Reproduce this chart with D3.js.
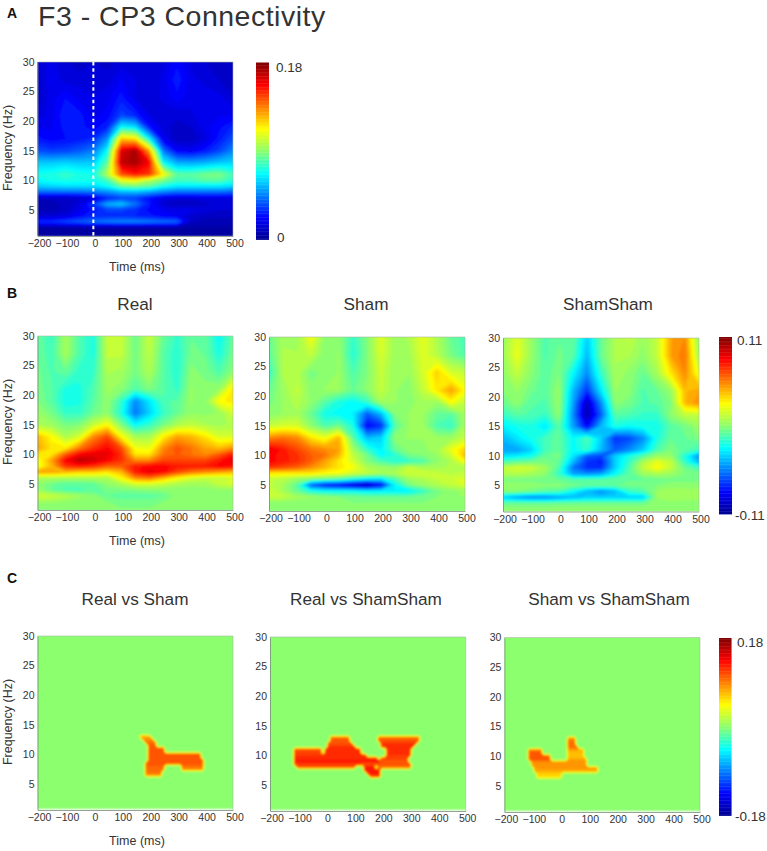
<!DOCTYPE html>
<html>
<head>
<meta charset="utf-8">
<script src="https://cdn.jsdelivr.net/npm/d3@7"></script>
<style>
  body { margin: 0; background: #fff; }
  text { font-family: "Liberation Sans", Arial, sans-serif; fill: #333; }
</style>
</head>
<body>
<div id="chart"></div>
<script>
// Heatmap axes, sampled unevenly in frequency because the low band has more detail
const times = [-200, -150, -100, -50, 0, 50, 100, 150, 200, 250, 300, 350, 400, 450, 500];
const freqs = [30, 27, 24, 21, 19, 17, 15, 13, 11, 10, 9, 8, 7, 6, 5, 4, 3, 2, 1];
const timeTicks = [-200, -100, 0, 100, 200, 300, 400, 500];
const freqTicks = [5, 10, 15, 20, 25, 30];

// Values below are in units of 0.01, one row per entry of freqs
const connectivity = [
    [1.6, 2.0, 1.5, 1.3, 1.5, 1.3, 1.7, 1.5, 1.5, 1.8, 2.5, 1.8, 1.5, 1.3, 1.1],
    [1.3, 2.3, 1.7, 1.7, 1.7, 1.7, 2.3, 1.9, 1.5, 2.0, 2.9, 2.0, 1.7, 1.5, 1.3],
    [1.3, 2.1, 2.6, 2.1, 1.9, 2.1, 2.8, 1.9, 1.5, 2.0, 2.5, 2.0, 2.2, 2.0, 1.5],
    [1.7, 2.1, 3.0, 2.8, 2.1, 2.4, 3.6, 3.0, 1.9, 1.6, 1.6, 1.8, 2.2, 2.2, 2.2],
    [2.2, 2.2, 2.8, 2.8, 2.4, 3.0, 7.0, 6.5, 2.8, 1.7, 1.3, 1.5, 2.1, 2.5, 3.1],
    [2.8, 2.4, 2.6, 2.8, 3.2, 5.0, 12.5, 12, 7.0, 2.2, 1.2, 1.2, 1.8, 2.8, 3.8],
    [3.8, 3.5, 3.6, 4.0, 4.6, 7.0, 16.5, 17.5, 13, 4.5, 2.4, 2.2, 2.8, 3.6, 4.8],
    [6.0, 6.0, 6.2, 6.0, 6.0, 8.5, 17, 17.5, 16, 7.0, 5.5, 5.4, 5.6, 6.0, 6.2],
    [7.2, 7.4, 7.8, 7.4, 7.2, 10, 14.5, 15.5, 15, 11.5, 8.4, 8.4, 8.8, 9.0, 8.0],
    [7.0, 7.2, 7.4, 7.2, 7.2, 8.0, 11, 11.5, 10, 9.0, 8.0, 8.0, 8.4, 8.4, 7.6],
    [6.0, 6.2, 6.4, 6.4, 6.4, 7.0, 8.5, 8.8, 8.4, 7.2, 6.6, 6.6, 6.6, 6.6, 6.2],
    [4.2, 4.2, 4.2, 4.2, 4.4, 4.8, 5.5, 5.6, 5.2, 4.6, 4.2, 4.2, 4.2, 4.2, 4.0],
    [1.2, 1.2, 1.2, 1.4, 1.8, 3.0, 3.6, 3.5, 2.6, 1.8, 1.6, 1.6, 1.8, 1.8, 1.8],
    [1.0, 1.0, 1.2, 1.8, 3.5, 5.5, 6.0, 4.5, 2.8, 1.5, 1.2, 1.2, 1.4, 1.6, 1.6],
    [1.0, 1.0, 1.2, 2.0, 2.8, 3.5, 3.5, 3.2, 2.5, 2.2, 2.0, 2.0, 1.8, 1.5, 1.5],
    [1.5, 1.6, 1.8, 2.5, 3.0, 3.2, 3.2, 3.0, 2.8, 2.4, 2.2, 1.5, 1.2, 1.2, 1.2],
    [3.0, 3.2, 3.6, 4.0, 4.4, 4.6, 4.8, 4.8, 4.6, 4.4, 4.2, 1.2, 1.0, 1.0, 1.0],
    [0.7, 0.7, 0.7, 0.7, 0.7, 0.7, 0.7, 0.7, 0.7, 0.7, 0.7, 0.7, 0.7, 0.7, 0.7],
    [0.6, 0.6, 0.6, 0.6, 0.6, 0.6, 0.6, 0.6, 0.6, 0.6, 0.6, 0.6, 0.6, 0.6, 0.6]
];

const real = [
    [-.5, -1.5, .8, -1, -2, 1.5, 1.6, -.5, 1.6, -.5, -1.5, -.5, -.5, -2.5, -.5],
    [-.5, -1.2, .8, -1, -2, 1.5, 1.5, -.3, 1.4, -.8, -1.8, -.3, -.5, -2, -.3],
    [-.3, -1, -.5, -1.6, -1.5, 1, .8, -.2, 1, -.8, -1.8, .2, -.2, -1, .2],
    [-.2, -.8, -2, -2, -1, .6, .2, -1, 0, -.8, -1.5, .5, .2, .5, 3.5],
    [0, -.8, -2.2, -2, -.8, .4, -1.5, -5, -3, -1, -.8, .5, .2, 3, 3.5],
    [.5, -.2, -1.5, -1.5, -.4, .3, -2, -5.5, -3.5, -1.5, -.5, .4, .3, .5, 2],
    [1, .6, -.2, 0, 1.6, 3, 0, -2.5, -1.5, -.2, 1, 1.5, 1, .8, 1],
    [4.5, 3, 1, 2, 5.5, 7, 3, .8, .8, 3.2, 5, 4.5, 3.5, 2, 2],
    [5, 3.5, 3.5, 6, 7.5, 8.5, 7, 2.8, 2.5, 5.5, 6.8, 6, 5, 4.5, 5.5],
    [3.5, 3.5, 6.5, 8.5, 9, 9, 7.5, 3.5, 3.5, 6, 6.5, 6, 5.5, 6.5, 8],
    [2.5, 5, 8.5, 10, 9.5, 8.5, 7.5, 5.5, 5.5, 7, 7, 7, 7, 8, 9],
    [2.5, 4.5, 7.5, 8, 7.5, 6.5, 6.5, 8, 8.5, 8.5, 8, 8, 8, 8.5, 8.5],
    [5, 5, 4.5, 4, 4, 3.5, 4.5, 8, 9, 8.5, 7, 6, 5.5, 5, 4.5],
    [1, 1, 1, 1, 1, 1, 3, 5.5, 6, 4.5, 3, 2, 1.5, 1.5, 2],
    [.3, -.3, -.8, -.8, -.6, .3, 1, 2, 2, 1.6, 1, .7, .7, 1.5, 2],
    [.5, -.5, -1, -1, -.8, -.2, -.2, 0, .2, .2, .2, .2, .3, .4, .4],
    [2, 1.6, 1.2, .6, .2, -.5, -.8, -.8, -.8, -.5, .2, .2, .2, .2, .2],
    [.6, .6, .4, .2, .1, 0, -.2, -.2, -.2, 0, 0, 0, 0, 0, 0],
    [0, 0, 0, 0, 0, 0, 0, 0, 0, 0, 0, 0, 0, 0, 0]
];

const sham = [
    [-.5, .8, .5, 2.8, .2, .3, -1.5, 0, 2.2, .6, 1, 2.4, 1, -.5, -1.2],
    [-.8, 1, 1, 1.5, 0, .5, -1.8, 0, 2, .6, .8, 2.2, 1.2, -.2, -1],
    [-1.5, 1, 1.2, -.2, .2, .5, -1, 0, 1.6, .5, .5, 2, 4, 2, 1.5],
    [-.5, .6, 1.5, .2, .5, .5, -.5, .2, 1.5, .5, .2, 1.5, 3.5, 5, 3],
    [-.2, .5, 1.2, .3, -.8, -2, -2.5, -1.5, .8, .5, .2, .8, .5, 3, 1.5],
    [.2, .5, .8, -.5, -2.2, -2.5, -2.8, -6, -4, 0, .5, .5, -.5, -.8, .8],
    [1.5, 2, 2, .3, -1, -.3, -2, -8, -7, -.8, .5, .5, -1, -1.5, .8],
    [5.5, 6, 5.5, 3.5, 2.5, 4.5, -.8, -4, -3.5, .3, .5, .5, .5, .5, 1.5],
    [9, 8, 7, 6, 5.5, 5, .8, -1.5, -2.8, -.5, .2, .3, .8, 2.5, 4],
    [8.5, 8, 7.5, 6.5, 6, 4.5, 1.5, -.2, -2.5, -1.8, -.2, 0, .5, 1.8, 4.5],
    [8.5, 8, 7.5, 6.5, 5, 3.5, 2, 0, -1, -1.8, -1.5, -1, .3, 1, 3],
    [7.5, 7, 6.5, 5.5, 4.5, 3.5, 2.8, 1, .5, .3, 1.5, .8, .8, 1, 1.2],
    [3.5, 3.5, 3.5, 3.5, 3, 2.8, 2, 1.5, 1, 1, 1.8, 1.8, 1.5, 1.2, 1.5],
    [1.5, 1.2, .5, 0, -.5, -1, -2, -2.8, -3, -1, .6, 1, 1.5, 1.8, 2],
    [1.5, .8, -.8, -6, -7.5, -8, -9, -10, -8, -2.5, -.2, .5, 1, 1.5, 2],
    [1.8, .8, -.5, -2, -2.5, -2.5, -2.5, -2.8, -2.8, -2.8, -2.8, -1.5, -.2, .3, .6],
    [1.8, 1.5, .8, .5, .2, 0, -.2, -.5, -.5, -.5, -.5, -.2, 0, .3, .5],
    [.2, .2, .2, .2, .1, .1, 0, 0, 0, 0, 0, 0, 0, .1, .1],
    [0, 0, 0, 0, 0, 0, 0, 0, 0, 0, 0, 0, 0, 0, 0]
];

const shamSham = [
    [.5, 2.2, .5, -1, -.5, -.5, -3.5, -.5, 1, 1.5, .5, 1.5, 5, 5.5, .2],
    [.5, 2.5, .5, -1, -.3, -.8, -4, -.5, 1, 1, .3, 1.5, 5, 6, .8],
    [.3, 1.5, .2, -.8, 0, -2.5, -5, -1.5, .8, .3, -.5, .8, 3.5, 5.5, 2.5],
    [0, .5, -.3, -.8, .5, -4, -7, -3, .5, .2, -1, -.5, .5, 4.5, 5],
    [-.5, .3, -.8, -1, .5, -4.5, -9.5, -5, .2, -.2, -1, -.8, 0, 4.5, 5.5],
    [-1.5, -.8, -1, -1.5, .3, -5, -10, -6, -.8, -1, -1.5, -1.5, .3, 1.5, 1.5],
    [-2.8, -2.2, -2, -3, -.8, -4.5, -8, -4, -2, -2.5, -2.2, -2.2, -.8, -.3, .6],
    [-4, -3, -2.2, -1.2, -.6, -2.5, -1, -3.5, -7, -6.5, -5, -2, -.5, -.5, 0],
    [-4.5, -4.5, -3.5, -1.2, -.5, -2.5, -1.5, -4, -6, -5, -3.5, -1, 0, -.8, -1.5],
    [-3, -2.8, -2.2, -.5, -.3, -3, -6, -6.5, -3.5, -2, -.8, .5, .5, -2, -5],
    [-1, -.5, -.3, -.2, -.5, -4, -7, -7.5, -3.5, -1.5, 1, 2.5, 1.5, -1.5, -4],
    [1.5, 2, 1.8, .8, -1, -5.5, -7, -7, -3.5, -1, 1.5, 3, 1.5, -.5, -1.2],
    [1, 1.2, .8, .3, -1.5, -4.5, -5, -4.5, -2.5, -.8, .6, 1, .6, 0, -.2],
    [-.2, -.2, -.2, -.3, -.5, -.8, -.8, -.8, -.5, -.5, -.5, -.5, -.2, -.2, -.2],
    [.5, .5, .3, .1, .2, -.3, -.5, -.5, -.5, -.3, -.3, 0, .3, .3, .3],
    [.2, 0, -.3, -.8, -1, -2.5, -4, -5, -4, -1.5, -1, .5, .8, .6, .6],
    [-3.5, -4.5, -5, -5, -4.5, -4, -3.5, -3.5, -3.5, -3.5, -3.5, .5, .8, .6, .6],
    [-.5, -.5, -.5, -.5, -.4, -.3, -.3, -.3, -.3, -.3, -.3, .3, .3, .3, .3],
    [.3, .3, .3, .3, .3, .3, .3, .3, .3, .3, .3, .3, .3, .3, .3]
];

// Significant clusters: [frequency, from ms, to ms, value], zero everywhere else
const realVsSham = [
    [13, 170, 205, 8], [12.5, 175, 210, 9], [12, 190, 220, 10], [11.5, 195, 225, 11],
    [11, 200, 255, 11], [10.5, 200, 255, 11], [10, 195, 380, 11], [9.5, 195, 380, 11],
    [9, 195, 395, 11], [8.5, 190, 395, 11], [8, 190, 250, 10.5], [8, 320, 395, 10],
    [7.5, 190, 250, 10], [7.5, 320, 395, 9], [7, 185, 245, 10], [6.5, 185, 245, 9]
];

const realVsShamSham = [
    [13, 15, 80, 10], [13, 185, 330, 10], [12.5, 15, 80, 11], [12.5, 185, 330, 11],
    [12, 10, 90, 11], [12, 195, 320, 12], [11.5, 8, 100, 12], [11.5, 200, 312, 12],
    [11, -110, -15, 11], [11, 0, 125, 12], [11, 215, 300, 12],
    [10.5, -110, -15, 11.5], [10.5, 0, 125, 12.5], [10.5, 220, 300, 12],
    [10, -110, -10, 12], [10, -5, 140, 12.5], [10, 215, 300, 12],
    [9.5, -110, 185, 12.5], [9.5, 195, 295, 11.5], [9, -110, 190, 13], [9, 195, 295, 11],
    [8.5, -110, 120, 12], [8.5, 130, 300, 11], [8, -105, 105, 10.5], [8, 135, 175, 13], [8, 190, 300, 10],
    [7.5, 140, 190, 13], [7, 150, 190, 13], [6.5, 155, 190, 12]
];

const shamVsShamSham = [
    [13, 28, 52, 9], [12.5, 28, 54, 10], [12, 28, 56, 10], [11.5, 28, 62, 10],
    [11, -115, -67, 10], [11, 28, 88, 8], [10.5, -115, -67, 11], [10.5, 28, 88, 7],
    [10, -115, -40, 11], [10, 28, 88, 7], [9.5, -115, -40, 11], [9.5, 28, 90, 8],
    [9, -108, 94, 9], [8.5, -105, 94, 8.5], [8, -90, 135, 8.5], [7.5, -90, 135, 8],
    [7, -85, 5, 6.5], [6.5, -85, 5, 6]
];

const clusterTimes = d3.range(-200, 501, 10);
const clusterFreqs = d3.range(30, 0.5, -0.5);

const jetStops = [0, 0.125, 0.375, 0.5, 0.625, 0.875, 1];
const jetColors = ["#00008f", "#0000ff", "#00ffff", "#8cff6e", "#ffff00", "#ff0000", "#7f0000"];

const width = 767;
const height = 851;

const svg = d3.select("#chart").append("svg")
    .attr("width", width)
    .attr("height", height);

const defs = svg.append("defs");
defs.append("filter").attr("id", "soft")
    .append("feGaussianBlur").attr("stdDeviation", 1.1);

const jet = d3.scaleLinear().domain(jetStops).range(jetColors).clamp(true);

// Turn cluster spans into a full grid so they go through the same drawing path
function clusterGrid(spans) {
    return clusterFreqs.map(f => clusterTimes.map(t => {
        const hit = spans.find(s => s[0] === f && t >= s[1] && t <= s[2]);
        return hit ? hit[3] : 0;
    }));
}

let panelCount = 0;

function drawHeatmap(p) {
    const x = d3.scaleLinear().domain([-200, 500]).range([p.x0, p.x1]);
    const y = d3.scaleLinear().domain([0.6, 30]).range([p.y1, p.y0]);
    const color = v => jet((v - p.min) / (p.max - p.min));

    const id = "clip" + (panelCount++);
    defs.append("clipPath").attr("id", id)
        .append("rect")
        .attr("x", p.x0).attr("y", p.y0)
        .attr("width", p.x1 - p.x0).attr("height", p.y1 - p.y0);

    const g = svg.append("g");
    const plot = g.append("g").attr("clip-path", `url(#${id})`)
        .append("g").attr("filter", "url(#soft)");

    // d3.contours puts grid point i at i + 0.5, map that back to time and frequency
    const colT = d3.scaleLinear().domain(p.times.map((t, i) => i + 0.5)).range(p.times);
    const rowF = d3.scaleLinear().domain(p.freqs.map((f, i) => i + 0.5)).range(p.freqs);
    const path = d3.geoPath(d3.geoTransform({
        point: function (a, b) { this.stream.point(x(colT(a)), y(rowF(b))); }
    }));

    const levels = d3.range(48).map(i => p.min + (p.max - p.min) * i / 48);
    const contours = d3.contours()
        .size([p.times.length, p.freqs.length])
        .thresholds(levels)(p.grid.flat());

    plot.selectAll("path")
        .data(contours)
        .enter()
        .append("path")
        .attr("d", path)
        .attr("fill", d => color(d.value));

    const xAxis = d3.axisBottom(x).tickValues(timeTicks).tickSize(0).tickPadding(4).tickFormat(d3.format("d"));
    const yAxis = d3.axisLeft(y).tickValues(freqTicks).tickSize(0).tickPadding(3);

    const gx = g.append("g").attr("transform", `translate(0,${p.y1})`).call(xAxis);
    const gy = g.append("g").attr("transform", `translate(${p.x0},0)`).call(yAxis);
    [gx, gy].forEach(a => {
        a.selectAll("text").style("font-size", "10.5px").style("font-family", null).attr("fill", null);
        a.select(".domain").attr("stroke", "#7b8a7b").attr("stroke-width", 0.8);
    });
    gx.selectAll("text").attr("dx", 1.5);
    gy.selectAll("text").attr("dy", "0.32em");

    // top and right edges are fainter than the axes
    g.append("path")
        .attr("d", `M${p.x0},${p.y0}H${p.x1}V${p.y1}`)
        .attr("fill", "none")
        .attr("stroke", "#a9b8a0")
        .attr("stroke-width", 0.6);

    if (p.title) {
        svg.append("text")
            .attr("x", p.titleX)
            .attr("y", p.titleY)
            .attr("text-anchor", "middle")
            .style("font-size", "17.2px")
            .text(p.title);
    }
    if (p.timeLabel) {
        svg.append("text")
            .attr("x", 137)
            .attr("y", p.timeLabel)
            .attr("text-anchor", "middle")
            .style("font-size", "12.5px")
            .text("Time (ms)");
    }
    if (p.freqLabel) {
        svg.append("text")
            .attr("transform", `translate(12,${(p.y0 + p.y1) / 2 - 1}) rotate(-90)`)
            .attr("text-anchor", "middle")
            .style("font-size", "12.5px")
            .text("Frequency (Hz)");
    }
    return x;
}

function drawColorbar(c) {
    const n = 128;
    const y = d3.scaleLinear().domain([0, n]).range([c.y1, c.y0]);
    svg.append("g").selectAll("rect")
        .data(d3.range(n))
        .enter()
        .append("rect")
        .attr("x", c.x0)
        .attr("y", d => y(d + 1))
        .attr("width", c.x1 - c.x0)
        .attr("height", (c.y1 - c.y0) / n + 0.4)
        .attr("fill", d => jet((d + 0.5) / n));

    c.labels.forEach(l => {
        svg.append("text")
            .attr("x", l.x)
            .attr("y", l.y)
            .attr("dy", "0.35em")
            .style("font-size", "13.5px")
            .text(l.text);
    });
}

// Panel A
svg.append("text").attr("x", 38).attr("y", 26)
    .style("font-size", "28.5px").style("letter-spacing", "0.5px").text("F3 - CP3 Connectivity");
[["A", 18], ["B", 298], ["C", 583]].forEach(d => {
    svg.append("text").attr("x", 7).attr("y", d[1])
        .style("font-size", "14px").style("font-weight", "bold").style("fill", "#111")
        .text(d[0]);
});

const xA = drawHeatmap({
    x0: 37.5, x1: 233, y0: 62, y1: 236, times, freqs, grid: connectivity, min: 0, max: 18,
    timeLabel: 271, freqLabel: true
});

svg.append("line")
    .attr("x1", xA(0)).attr("x2", xA(0))
    .attr("y1", 62).attr("y2", 236)
    .attr("stroke", "#fff")
    .attr("stroke-width", 2)
    .attr("stroke-dasharray", "3.5 2.8");

drawColorbar({
    x0: 256, x1: 269, y0: 62.5, y1: 239.5,
    labels: [{ x: 276, y: 67, text: "0.18" }, { x: 277, y: 237, text: "0" }]
});

// Panel B
drawHeatmap({
    x0: 37.5, x1: 233, y0: 336, y1: 510, times, freqs, grid: real, min: -11, max: 11,
    title: "Real", titleX: 135, titleY: 310, timeLabel: 545, freqLabel: true
});
drawHeatmap({
    x0: 269, x1: 465, y0: 337, y1: 511, times, freqs, grid: sham, min: -11, max: 11,
    title: "Sham", titleX: 366, titleY: 310
});
drawHeatmap({
    x0: 503, x1: 699, y0: 338, y1: 511.5, times, freqs, grid: shamSham, min: -11, max: 11,
    title: "ShamSham", titleX: 608, titleY: 310
});
drawColorbar({
    x0: 719, x1: 732, y0: 337, y1: 514,
    labels: [{ x: 737, y: 340, text: "0.11" }, { x: 735, y: 515, text: "-0.11" }]
});

// Panel C
drawHeatmap({
    x0: 37.5, x1: 233, y0: 636, y1: 810, times: clusterTimes, freqs: clusterFreqs,
    grid: clusterGrid(realVsSham), min: -18, max: 18,
    title: "Real vs Sham", titleX: 135, titleY: 605, timeLabel: 845, freqLabel: true
});
drawHeatmap({
    x0: 270, x1: 465.7, y0: 637, y1: 811, times: clusterTimes, freqs: clusterFreqs,
    grid: clusterGrid(realVsShamSham), min: -18, max: 18,
    title: "Real vs ShamSham", titleX: 366, titleY: 605
});
drawHeatmap({
    x0: 504.4, x1: 700, y0: 637.5, y1: 812, times: clusterTimes, freqs: clusterFreqs,
    grid: clusterGrid(shamVsShamSham), min: -18, max: 18,
    title: "Sham vs ShamSham", titleX: 609, titleY: 605
});
drawColorbar({
    x0: 719, x1: 731.5, y0: 638, y1: 815.5,
    labels: [{ x: 737, y: 642, text: "0.18" }, { x: 735, y: 816, text: "-0.18" }]
});
</script>
</body>
</html>
